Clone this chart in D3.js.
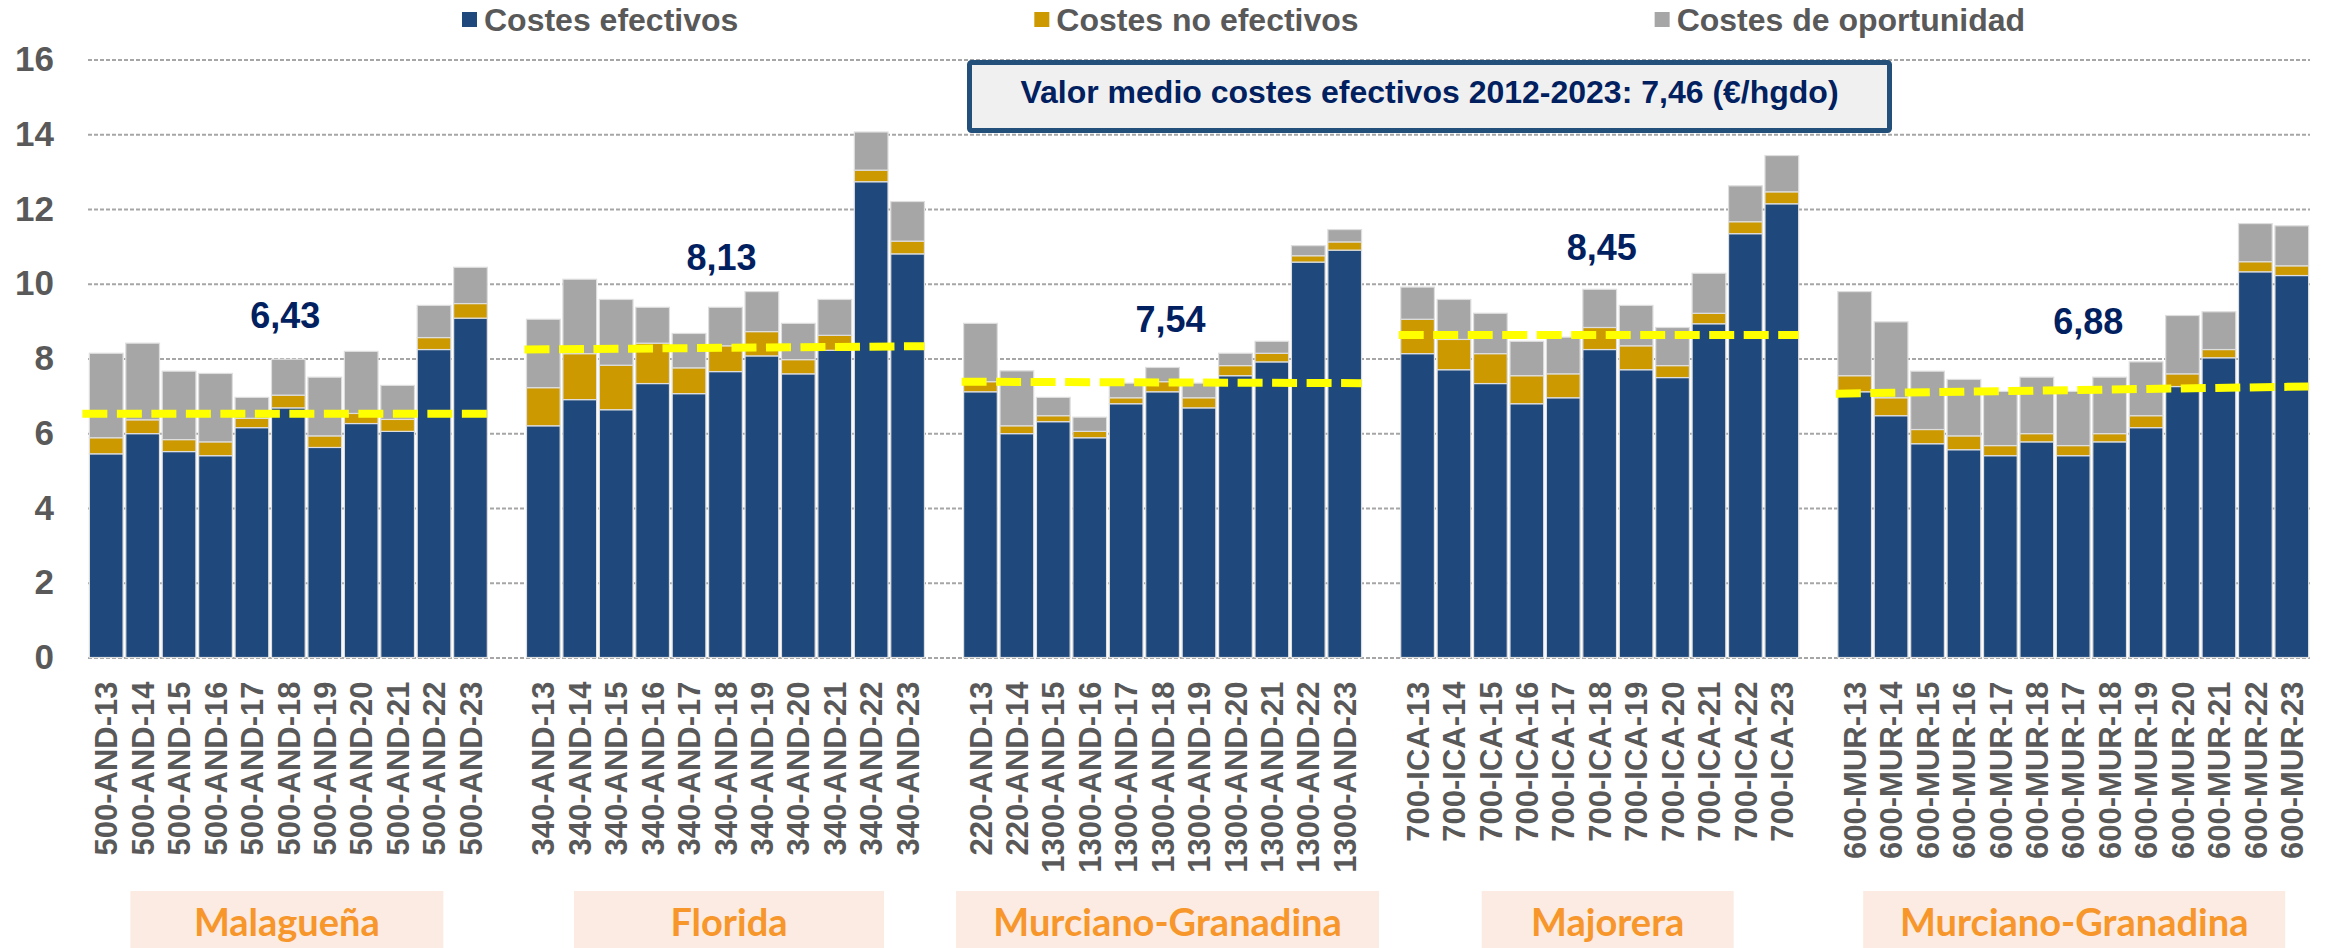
<!DOCTYPE html>
<html>
<head>
<meta charset="utf-8">
<script src="https://cdn.jsdelivr.net/npm/d3@7"></script>
<style>
  body { margin: 0; background: #fff; }
  svg { display: block; font-family: "Liberation Sans", Arial, sans-serif; }
</style>
</head>
<body>
<svg width="2329" height="948"></svg>
<script>
// ---- data ----
var groupNames = ["Malagueña", "Florida", "Murciano-Granadina", "Majorera", "Murciano-Granadina"];

var groupCategories = [
  ["500-AND-13","500-AND-14","500-AND-15","500-AND-16","500-AND-17","500-AND-18","500-AND-19","500-AND-20","500-AND-21","500-AND-22","500-AND-23"],
  ["340-AND-13","340-AND-14","340-AND-15","340-AND-16","340-AND-17","340-AND-18","340-AND-19","340-AND-20","340-AND-21","340-AND-22","340-AND-23"],
  ["220-AND-13","220-AND-14","1300-AND-15","1300-AND-16","1300-AND-17","1300-AND-18","1300-AND-19","1300-AND-20","1300-AND-21","1300-AND-22","1300-AND-23"],
  ["700-ICA-13","700-ICA-14","700-ICA-15","700-ICA-16","700-ICA-17","700-ICA-18","700-ICA-19","700-ICA-20","700-ICA-21","700-ICA-22","700-ICA-23"],
  ["600-MUR-13","600-MUR-14","600-MUR-15","600-MUR-16","600-MUR-17","600-MUR-18","600-MUR-17","600-MUR-18","600-MUR-19","600-MUR-20","600-MUR-21","600-MUR-22","600-MUR-23"]
];

var costesEfectivos = [
  [5.45, 5.99, 5.51, 5.40, 6.15, 6.68, 5.62, 6.26, 6.05, 8.24, 9.08],
  [6.20, 6.90, 6.63, 7.33, 7.06, 7.65, 8.07, 7.59, 8.22, 12.73, 10.80],
  [7.11, 5.99, 6.31, 5.88, 6.79, 7.11, 6.68, 7.54, 7.91, 10.58, 10.90],
  [8.13, 7.70, 7.33, 6.79, 6.95, 8.24, 7.70, 7.49, 8.93, 11.34, 12.14],
  [7.11, 6.47, 5.72, 5.56, 5.40, 5.77, 5.40, 5.77, 6.15, 7.25, 8.02, 10.32, 10.22]
];

var costesNoEfectivos = [
  [0.43, 0.37, 0.32, 0.37, 0.25, 0.34, 0.31, 0.27, 0.32, 0.32, 0.39],
  [1.02, 1.23, 1.19, 1.08, 0.69, 0.69, 0.65, 0.38, 0.40, 0.31, 0.34],
  [0.27, 0.21, 0.16, 0.17, 0.16, 0.27, 0.27, 0.27, 0.23, 0.17, 0.22],
  [0.92, 0.81, 0.80, 0.75, 0.64, 0.59, 0.64, 0.32, 0.28, 0.32, 0.32],
  [0.43, 0.48, 0.38, 0.37, 0.27, 0.22, 0.27, 0.22, 0.32, 0.34, 0.22, 0.27, 0.26]
];

var costesOportunidad = [
  [2.26, 2.05, 1.83, 1.83, 0.56, 0.96, 1.57, 1.66, 0.91, 0.86, 0.97],
  [1.83, 1.99, 1.76, 0.96, 0.92, 1.03, 1.07, 0.97, 0.96, 1.02, 1.06],
  [1.56, 1.47, 0.49, 0.38, 0.39, 0.38, 0.39, 0.33, 0.32, 0.27, 0.33],
  [0.86, 1.07, 1.08, 0.92, 0.98, 1.02, 1.08, 1.02, 1.07, 0.96, 0.97],
  [2.25, 2.03, 1.56, 1.51, 1.45, 1.51, 1.45, 1.51, 1.44, 1.56, 1.01, 1.02, 1.07]
];

// group average (text) and the drawn yellow dashed line (start / end level)
var groupMeanText = ["6,43", "8,13", "7,54", "8,45", "6,88"];
var meanLineStart = [6.52, 8.24, 7.38, 8.63, 7.06];
var meanLineEnd   = [6.52, 8.33, 7.34, 8.63, 7.25];

var seriesNames = ["Costes efectivos", "Costes no efectivos", "Costes de oportunidad"];
var yTicks = [0, 2, 4, 6, 8, 10, 12, 14, 16];
var boxText = "Valor medio costes efectivos 2012-2023: 7,46 (€/hgdo)";

// ---- layout ----
var svg = d3.select("svg");
var colors = ["#1f497d", "#cc9900", "#a6a6a6"];
var plot = {left: 88, right: 2310, top: 59.5, bottom: 657.5};
var meanLabelLevel = [8.82, 10.37, 8.71, 10.64, 8.66];
var meanLabelShift = [-3, -4, 8, 2, 15];
var breedBoxWidth = [313, 310, 423, 252, 422];
var breedBoxShift = [-1.5, 3.5, 5, 8, 1];

// flat rows with an empty slot between groups
var rows = [];
groupCategories.forEach(function(cats, g) {
  if (g > 0) rows.push({key: "gap" + g, label: "", gap: true});
  cats.forEach(function(c, i) {
    rows.push({
      key: "g" + g + "-" + i, label: c, group: g,
      ef: costesEfectivos[g][i], ne: costesNoEfectivos[g][i], op: costesOportunidad[g][i]
    });
  });
});
var bars = rows.filter(function(d) { return !d.gap; });

var x = d3.scaleBand()
  .domain(rows.map(function(d) { return d.key; }))
  .range([plot.left, plot.right])
  .paddingInner(0.075)
  .paddingOuter(0.0375);

var y = d3.scaleLinear().domain([0, 16]).range([plot.bottom, plot.top]);

// y axis + dashed grid
var yAxis = svg.append("g")
  .attr("transform", "translate(" + plot.left + ",0)")
  .call(d3.axisLeft(y).tickValues(yTicks).tickFormat(d3.format("d"))
    .tickSize(-(plot.right - plot.left)).tickPadding(34));
yAxis.select(".domain").remove();
yAxis.selectAll(".tick line")
  .attr("stroke", "#a6a6a6").attr("stroke-width", 2).attr("stroke-dasharray", "4,2");
yAxis.selectAll(".tick text")
  .attr("fill", "#595959").style("font-size", "35px").style("font-weight", "bold")
  .style("font-family", "'Liberation Sans', Arial, sans-serif");

// stacked bars
var stack = d3.stack().keys(["ef", "ne", "op"]);
var layers = stack(bars);

svg.append("g").selectAll("g")
  .data(layers)
  .join("g")
    .attr("fill", function(d, i) { return colors[i]; })
  .selectAll("rect")
  .data(function(d) { return d; })
  .join("rect")
    .attr("x", function(d) { return x(d.data.key); })
    .attr("width", x.bandwidth())
    .attr("y", function(d) { return y(d[1]); })
    .attr("height", function(d) { return y(d[0]) - y(d[1]); })
    .attr("stroke", "#dedede")
    .attr("stroke-width", 1.2);

// x axis labels (rotated)
var xAxis = svg.append("g")
  .attr("transform", "translate(0," + plot.bottom + ")")
  .call(d3.axisBottom(x).tickSize(0).tickFormat(function(k) {
    var r = rows.find(function(d) { return d.key === k; });
    return r ? r.label : "";
  }));
xAxis.select(".domain").remove();
xAxis.selectAll(".tick text")
  .attr("transform", "translate(0,24) rotate(-90)")
  .attr("x", 0).attr("y", 0).attr("dy", "0.36em")
  .attr("text-anchor", "end")
  .attr("fill", "#595959")
  .style("font-size", "31px").style("font-weight", "bold")
  .style("font-family", "'Liberation Sans', Arial, sans-serif");

// group helpers
function groupExtent(g) {
  var first = x("g" + g + "-0");
  var last = x("g" + g + "-" + (groupCategories[g].length - 1)) + x.bandwidth();
  return [first, last];
}

// yellow dashed mean lines
var meanG = svg.append("g");
groupNames.forEach(function(name, g) {
  var ext = groupExtent(g);
  meanG.append("line")
    .attr("x1", ext[0] - (g === 0 ? 7 : 2)).attr("x2", ext[1])
    .attr("y1", y(meanLineStart[g])).attr("y2", y(meanLineEnd[g]))
    .attr("stroke", "#ffff00").attr("stroke-width", 8)
    .attr("stroke-dasharray", "25,9.5");
});

// mean value labels
svg.append("g").selectAll("text")
  .data(groupMeanText)
  .join("text")
    .attr("x", function(d, g) { var e = groupExtent(g); return (e[0] + e[1]) / 2 + meanLabelShift[g]; })
    .attr("y", function(d, g) { return y(meanLabelLevel[g]); })
    .attr("text-anchor", "middle")
    .attr("fill", "#002060")
    .style("font-size", "36px").style("font-weight", "bold")
    .text(function(d) { return d; });

// legend
var legend = svg.append("g");
var lx = 462;
seriesNames.forEach(function(s, i) {
  legend.append("rect")
    .attr("x", lx).attr("y", 12).attr("width", 15).attr("height", 15)
    .attr("fill", colors[i]);
  var t = legend.append("text")
    .attr("x", lx + 22).attr("y", 31)
    .attr("fill", "#595959")
    .style("font-size", "32px").style("font-weight", "bold")
    .text(s);
  lx += 22 + t.node().getComputedTextLength() + 296;
});

// average box
svg.append("rect")
  .attr("x", 969.5).attr("y", 62.5).attr("width", 920).attr("height", 68)
  .attr("fill", "#f0f0f0").attr("stroke", "#23507a").attr("stroke-width", 5).attr("rx", 2);
svg.append("text")
  .attr("x", 1429.5).attr("y", 103)
  .attr("text-anchor", "middle")
  .attr("fill", "#002060")
  .style("font-size", "32px").style("font-weight", "bold")
  .text(boxText);

// breed boxes
var breeds = svg.append("g");
groupNames.forEach(function(name, g) {
  var e = groupExtent(g), cx = (e[0] + e[1]) / 2 + breedBoxShift[g];
  breeds.append("rect")
    .attr("x", cx - breedBoxWidth[g] / 2).attr("y", 891)
    .attr("width", breedBoxWidth[g]).attr("height", 70)
    .attr("fill", "#fcebe2");
  breeds.append("text")
    .attr("x", cx).attr("y", 936)
    .attr("text-anchor", "middle")
    .attr("fill", "#f7962a")
    .style("font-family", "Lato, 'Open Sans', sans-serif")
    .style("font-size", "38px").style("font-weight", "bold")
    .text(name);
});
</script>
</body>
</html>
